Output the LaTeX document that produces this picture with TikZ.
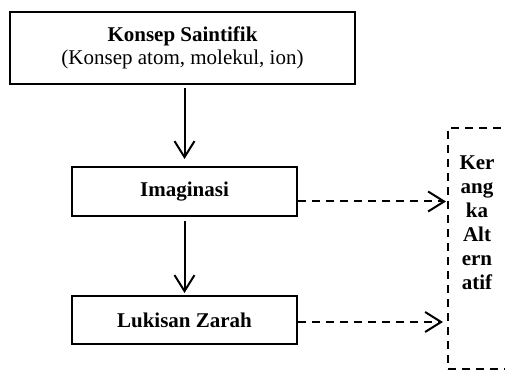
\documentclass[tikz,border=0pt]{standalone}
\usepackage{fontspec}
\setmainfont{Liberation Serif}
\usetikzlibrary{arrows.meta}
\begin{document}
\begin{tikzpicture}[x=1pt,y=-1pt,
  box/.style={draw, line width=2pt, inner sep=0pt, align=center, font=\fontsize{21}{23.5}\selectfont},
  arr/.style={line width=2pt, -{Straight Barb[length=16pt,width=20pt,line width=2pt]}},
  darr/.style={arr, dash pattern=on 8pt off 6pt},
  dbox/.style={draw, line width=2pt, dash pattern=on 8pt off 6pt, inner sep=0pt},
  vtext/.style={inner sep=0pt, align=center, font=\fontsize{21}{24}\selectfont\bfseries}]
\useasboundingbox (0,0) rectangle (505,371);
\clip (0,0) rectangle (505,371);
\node[box, minimum width=345pt, minimum height=72pt] (top) at (182.5,48) {\textbf{Konsep Saintifik}\\(Konsep atom, molekul, ion)};
\node[box, minimum width=225pt, minimum height=49pt, font=\fontsize{21}{23.5}\selectfont\bfseries] (img) at (184.5,191.5) {Imaginasi};
\node[box, minimum width=225pt, minimum height=48pt, font=\fontsize{21}{23.5}\selectfont\bfseries] (luk) at (184.5,320) {Lukisan Zarah};
\node[dbox, minimum width=60pt, minimum height=241pt] (ka) at (478,248.5) {};
\node[vtext, anchor=north] (kat) at (477,156) {Ker\\ang\\ka\\Alt\\ern\\atif};
\draw[arr, shorten <=3pt, shorten >=7pt] (top.south -| img.north) -- (img.north);
\draw[arr, shorten <=4pt, shorten >=2pt] (img.south) -- (luk.north);
\draw[darr, shorten >=1pt] ([yshift=-10pt]img.east) -- ([yshift=-10pt]img.east -| ka.west);
\draw[darr, shorten >=4pt] ([yshift=-2pt]luk.east) -- ([yshift=-2pt]luk.east -| ka.west);
\end{tikzpicture}
\end{document}
